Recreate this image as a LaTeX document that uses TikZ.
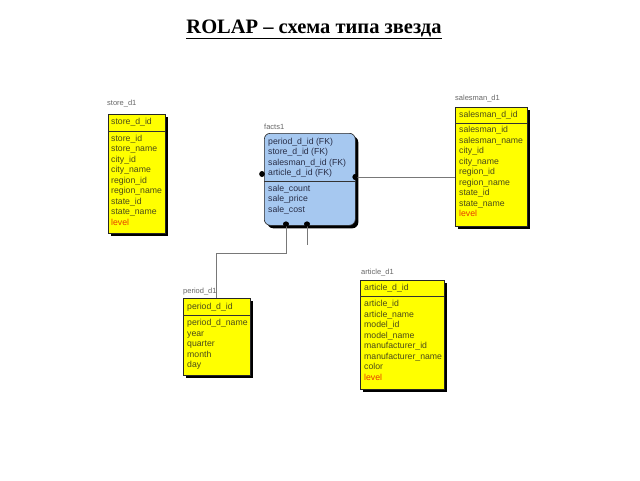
\documentclass[tikz,border=0pt]{standalone}
\usepackage{fontspec}
\setmainfont{Liberation Serif}
\setsansfont{Liberation Sans}
\usetikzlibrary{shadows}
\definecolor{boxyellow}{RGB}{255,255,0}
\definecolor{factblue}{RGB}{166,200,240}
\definecolor{ytext}{RGB}{75,75,25}
\definecolor{ftext}{RGB}{40,45,70}
\definecolor{lvl}{RGB}{230,60,0}
\definecolor{conn}{RGB}{120,120,120}
\begin{document}
\begin{tikzpicture}[x=1pt,y=-1pt,
  tbl/.style={draw=black!85, line width=0.6pt, inner sep=0pt, anchor=north west,
    drop shadow={shadow xshift=3pt, shadow yshift=-3pt, fill=black, opacity=1}},
  ybox/.style={tbl, fill=boxyellow},
  fbox/.style={tbl, fill=factblue, rounded corners=6pt},
  fld/.style={anchor=west, inner sep=0pt, text height=6.4pt, text depth=2pt,
    font=\sffamily\fontsize{8.7}{9}\selectfont, text=ytext},
  ffld/.style={fld, text=ftext},
  lvlfld/.style={fld, text=lvl},
  tlabel/.style={anchor=west, inner sep=0pt, font=\sffamily\fontsize{7.5}{8}\selectfont, text=black!60},
  sep/.style={draw=black!80, line width=0.6pt},
  conline/.style={draw=conn, line width=0.8pt},
  dot/.style={fill=black, draw=none}
]
\useasboundingbox (0,0) rectangle (640,480);

% title
\node[font=\bfseries\fontsize{20.5}{24}\selectfont, inner sep=0pt] (title) at (314,29) {\underline{ROLAP – схема типа звезда}};

% ---------- store_d1 ----------
\node[tlabel] (storelbl) at (107,104) {store\_d1};
\node[ybox, minimum width=57pt, minimum height=119pt] (store) at (108,114) {};
\draw[sep] (108,131) -- (165,131);
\node[fld] (s0) at (111,122) {store\_d\_id};
\node[fld] (s1) at (111,139) {store\_id};
\node[fld] (s2) at (111,149.5) {store\_name};
\node[fld] (s3) at (111,160) {city\_id};
\node[fld] (s4) at (111,170.5) {city\_name};
\node[fld] (s5) at (111,181) {region\_id};
\node[fld] (s6) at (111,191.5) {region\_name};
\node[fld] (s7) at (111,202) {state\_id};
\node[fld] (s8) at (111,212.5) {state\_name};
\node[lvlfld] (s9) at (111,223) {level};

% ---------- facts1 ----------
\node[tlabel] (factlbl) at (264,127) {facts1};
\node[fbox, minimum width=91pt, minimum height=92pt] (fact) at (264,133) {};
\draw[sep] (264,181) -- (355,181);
\node[ffld] (f0) at (268,142) {period\_d\_id (FK)};
\node[ffld] (f1) at (268,152.5) {store\_d\_id (FK)};
\node[ffld] (f2) at (268,163) {salesman\_d\_id (FK)};
\node[ffld] (f3) at (268,173.5) {article\_d\_id (FK)};
\node[ffld] (f4) at (268,189) {sale\_count};
\node[ffld] (f5) at (268,199.5) {sale\_price};
\node[ffld] (f6) at (268,210) {sale\_cost};

% ---------- salesman_d1 ----------
\node[tlabel] (salelbl) at (455,99) {salesman\_d1};
\node[ybox, minimum width=72pt, minimum height=119pt] (salesman) at (455,107) {};
\draw[sep] (455,123) -- (527,123);
\node[fld] (m0) at (459,115) {salesman\_d\_id};
\node[fld] (m1) at (459,130.5) {salesman\_id};
\node[fld] (m2) at (459,141) {salesman\_name};
\node[fld] (m3) at (459,151.5) {city\_id};
\node[fld] (m4) at (459,162) {city\_name};
\node[fld] (m5) at (459,172.5) {region\_id};
\node[fld] (m6) at (459,183) {region\_name};
\node[fld] (m7) at (459,193.5) {state\_id};
\node[fld] (m8) at (459,204) {state\_name};
\node[lvlfld] (m9) at (459,214.5) {level};

% ---------- period_d1 ----------
\node[tlabel] (perlbl) at (183,292) {period\_d1};
\node[ybox, minimum width=67pt, minimum height=77pt] (period) at (183,298) {};
\draw[sep] (183,315) -- (250,315);
\node[fld] (p0) at (187,307) {period\_d\_id};
\node[fld] (p1) at (187,323.5) {period\_d\_name};
\node[fld] (p2) at (187,334) {year};
\node[fld] (p3) at (187,344.5) {quarter};
\node[fld] (p4) at (187,355) {month};
\node[fld] (p5) at (187,365.5) {day};

% ---------- article_d1 ----------
\node[tlabel] (artlbl) at (361,273) {article\_d1};
\node[ybox, minimum width=84pt, minimum height=109pt] (article) at (360,280) {};
\draw[sep] (360,296) -- (444,296);
\node[fld] (a0) at (364,288) {article\_d\_id};
\node[fld] (a1) at (364,304.5) {article\_id};
\node[fld] (a2) at (364,315) {article\_name};
\node[fld] (a3) at (364,325.5) {model\_id};
\node[fld] (a4) at (364,336) {model\_name};
\node[fld] (a5) at (364,346.5) {manufacturer\_id};
\node[fld] (a6) at (364,357) {manufacturer\_name};
\node[fld] (a7) at (364,367.5) {color};
\node[lvlfld] (a8) at (364,378) {level};

% ---------- connectors ----------
\coordinate (fl) at (262,174);
\coordinate (fr) at (355,177);
\coordinate (fb1) at (286,224);
\coordinate (fb2) at (307,224);
\coordinate (stub) at (307,245);

\draw[conline] (fr) -- (fr -| salesman.west);
\draw[conline] (fb1) -- ++(0,29) -| (period.north);
\draw[conline] (fb2) -- (stub);

\fill[dot] (fl) ellipse (2.8pt and 3pt);
\fill[dot] (fr) ellipse (2.6pt and 3pt);
\fill[dot] (fb1) ellipse (3pt and 2.6pt);
\fill[dot] (fb2) ellipse (3pt and 2.6pt);
\end{tikzpicture}
\end{document}
